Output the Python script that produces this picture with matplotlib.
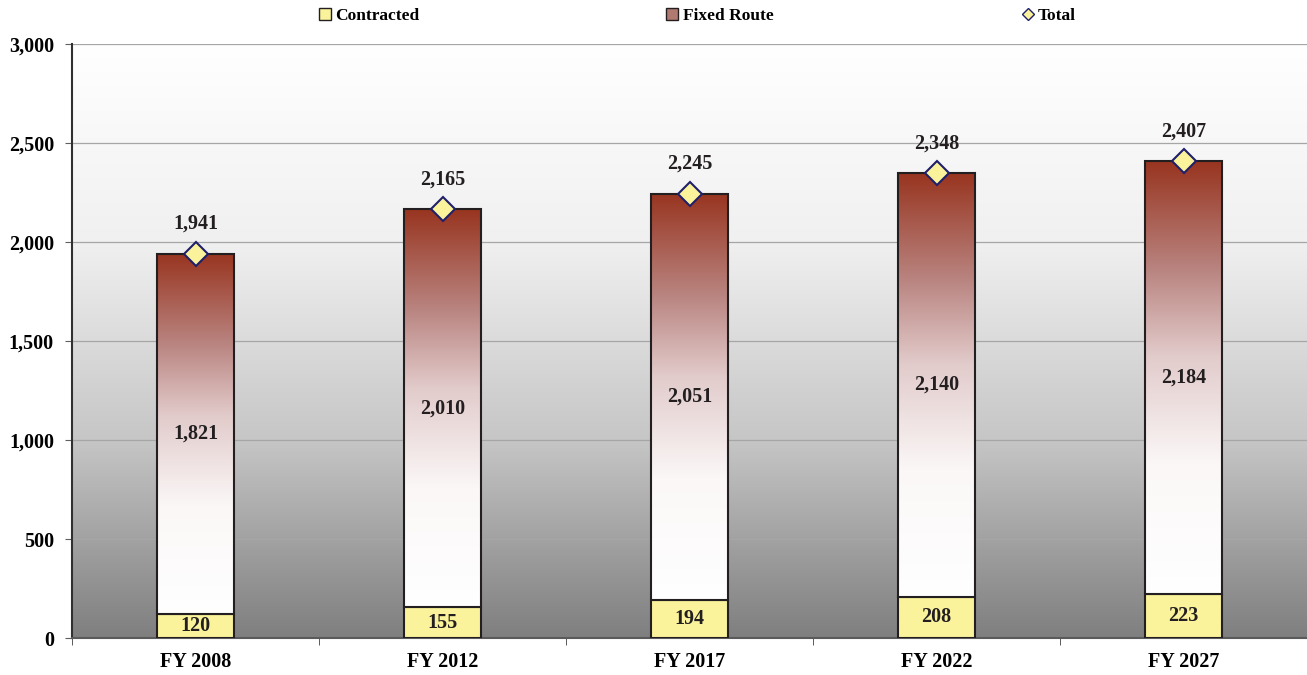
import numpy as np
import matplotlib
matplotlib.use("Agg")
from matplotlib import pyplot as plt
from matplotlib.colors import LinearSegmentedColormap
from matplotlib.patches import Rectangle
from matplotlib.lines import Line2D

years = ["FY 2008", "FY 2012", "FY 2017", "FY 2022", "FY 2027"]
contracted = [120, 155, 194, 208, 223]
fixed_route = [1821, 2010, 2051, 2140, 2184]
totals = [1941, 2165, 2245, 2348, 2407]

plt.rcParams['font.family'] = ['Liberation Serif', 'DejaVu Serif']
plt.rcParams['font.weight'] = 'bold'

fig = plt.figure(figsize=(13.07, 6.75), dpi=100)
ax = fig.add_axes([0.0551, 0.0548, 0.9449, 0.88])

x = np.arange(len(years))
w = 0.31
ax.set_xlim(-0.5, len(years) - 0.5)
ax.set_ylim(0, 3000)

# background: white at the top fading to grey at the bottom
bg = LinearSegmentedColormap.from_list("bg", ["#7f7f7f", "#c6c6c6", "#f0f0f0", "#ffffff"])
ax.imshow(np.linspace(0, 1, 256).reshape(-1, 1), cmap=bg, origin="lower", aspect="auto",
          extent=[-0.5, len(years) - 0.5, 0, 3000], zorder=0)

for yv in range(500, 3001, 500):
    ax.axhline(yv, color="#a6a6a6", lw=0.9, zorder=1)

fr_cmap = LinearSegmentedColormap.from_list(
    "fr", [(0, "#ffffff"), (0.3, "#fbf7f7"), (0.55, "#e2cbcb"), (0.75, "#b98480"), (1, "#983520")])
grad = np.linspace(0, 1, 256).reshape(-1, 1)

ax.bar(x, contracted, w, color="#faf39b", edgecolor="#231f20", lw=1.5, zorder=3)
for i in range(len(years)):
    x0 = x[i] - w / 2
    b0 = contracted[i]
    b1 = contracted[i] + fixed_route[i]
    im = ax.imshow(grad, cmap=fr_cmap, origin="lower", aspect="auto",
                   extent=[x0, x0 + w, b0, b1], zorder=3)
    r = Rectangle((x0, b0), w, fixed_route[i], fc="none", ec="#231f20", lw=1.5, zorder=4)
    ax.add_patch(r)
    im.set_clip_path(r)
    ax.text(x[i], contracted[i] / 2, f"{contracted[i]:,}", ha="center", va="center",
            fontsize=14.5, color="#231f20", zorder=6)
    ax.text(x[i], b0 + fixed_route[i] / 2, f"{fixed_route[i]:,}", ha="center", va="center",
            fontsize=14.5, color="#231f20", zorder=6)
    ax.text(x[i], totals[i] + 150, f"{totals[i]:,}", ha="center", va="center",
            fontsize=14.5, color="#231f20", zorder=6)

ax.plot(x, totals, ls="none", marker="D", ms=12, mfc="#faf39b", mec="#1f1f6b", mew=1.5, zorder=5)

ax.set_xticks(x)
ax.set_xticklabels(years, fontsize=14.5)
ax.set_xticks(np.arange(-0.5, len(years), 1), minor=True)
ax.tick_params(axis="x", which="major", length=0, pad=10)
ax.tick_params(axis="x", which="minor", length=5, color="#404040")
ax.set_yticks(range(0, 3001, 500))
ax.set_yticklabels([f"{v:,}" for v in range(0, 3001, 500)], fontsize=14.5)
ax.tick_params(axis="y", length=5, color="#606060", pad=8)
for s in ["top", "right"]:
    ax.spines[s].set_visible(False)
ax.spines["left"].set_color("#303030")
ax.spines["left"].set_linewidth(1.5)
ax.spines["bottom"].set_color("#5a5a5a")
ax.spines["bottom"].set_linewidth(1.5)

# legend entries spread across the top
entries = [
    (Line2D([], [], ls="none", marker="s", ms=8, mfc="#faf39b", mec="#231f20"), "Contracted", 0.243),
    (Line2D([], [], ls="none", marker="s", ms=8, mfc="#b07a70", mec="#231f20"), "Fixed Route", 0.509),
    (Line2D([], [], ls="none", marker="D", ms=6, mfc="#faf39b", mec="#1f1f6b"), "Total", 0.781),
]
for h, lab, xp in entries:
    fig.legend([h], [lab], loc="center left", bbox_to_anchor=(xp, 0.976), frameon=False,
               fontsize=12.5, handlelength=0.8, handletextpad=0.2, borderpad=0, borderaxespad=0)

fig.savefig("out.png", dpi=100)
